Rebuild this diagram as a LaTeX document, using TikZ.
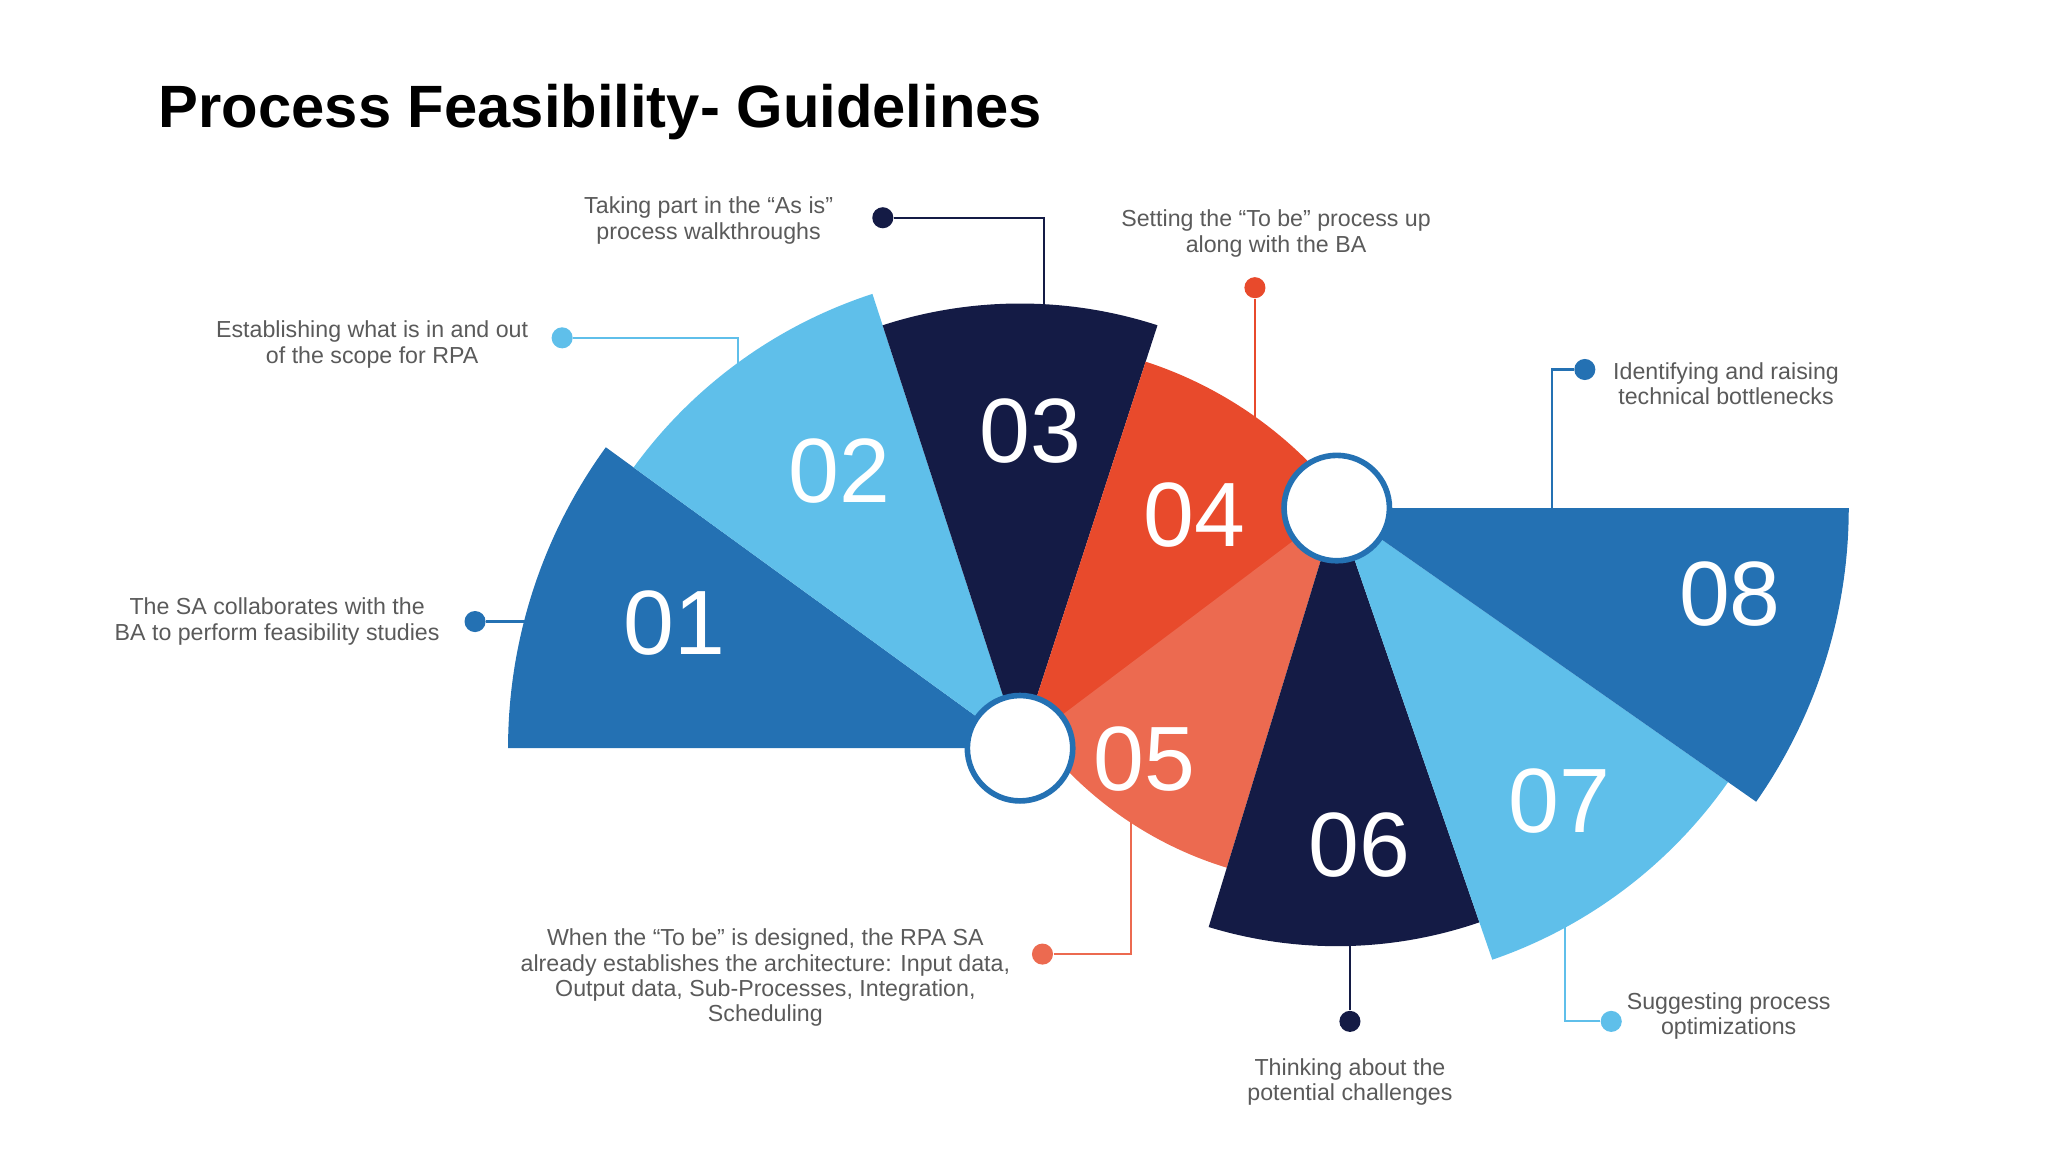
\documentclass[tikz,border=0pt]{standalone}
\usepackage{fontspec}
\setmainfont{Liberation Sans}
\definecolor{cblue}{HTML}{2471B3}
\definecolor{clight}{HTML}{5FBFEA}
\definecolor{cnavy}{HTML}{141B45}
\definecolor{corange}{HTML}{E84A2C}
\definecolor{corl}{HTML}{EC6A50}
\definecolor{ctext}{HTML}{5A5A5A}
\begin{document}
\begin{tikzpicture}[x=0.013196cm,y=-0.013196cm,
  num/.style={text=white,font=\fontsize{26}{28}\selectfont},
  lbl/.style={text=ctext,font=\fontsize{6.6}{7.2}\selectfont,align=center,inner sep=0pt},
  dot/.style={circle,fill=#1,minimum size=6pt,inner sep=0pt},
  conn/.style={draw=#1,line width=0.6pt},
  hub/.style={circle,fill=white,draw=cblue,line width=1.6pt,minimum size=30pt,inner sep=0pt}]
\useasboundingbox (0,0) rectangle (1552,873);
\node[anchor=west,font=\bfseries\fontsize{17}{20}\selectfont] (title) at (111,85) {Process Feasibility- Guidelines};
% connectors
\node[dot=cblue] (d1) at (360,471) {};
\coordinate (e1) at (400,471);
\draw[conn=cblue] (d1) -- (e1);
\node[dot=clight] (d2) at (426,256) {};
\coordinate (e2) at (559,280);
\draw[conn=clight] (d2) -| (e2);
\node[dot=cnavy] (d3) at (669,165) {};
\coordinate (e3) at (791,240);
\draw[conn=cnavy] (d3) -| (e3);
\node[dot=corange] (d4) at (951,218) {};
\coordinate (e4) at (951,320);
\draw[conn=corange] (d4) -- (e4);
\node[dot=cblue] (d8) at (1201,280) {};
\coordinate (e8) at (1176,390);
\draw[conn=cblue] (d8) -| (e8);
\node[dot=clight] (d7) at (1221,774) {};
\coordinate (e7) at (1186,700);
\draw[conn=clight] (d7) -| (e7);
\node[dot=cnavy] (d6) at (1023,774) {};
\coordinate (e6) at (1023,712);
\draw[conn=cnavy] (d6) -- (e6);
\node[dot=corl] (d5) at (790,723) {};
\coordinate (e5) at (857,610);
\draw[conn=corl] (d5) -| (e5);
% sectors
\fill[cblue] (773,567) -- ++(-180:388) arc[start angle=-180,end angle=-144,radius=388] -- cycle;
\fill[clight] (773,567) -- ++(-144:362) arc[start angle=-144,end angle=-108,radius=362] -- cycle;
\fill[cnavy] (773,567) -- ++(-108:337) arc[start angle=-108,end angle=-72,radius=337] -- cycle;
\fill[corange] (773,567) -- ++(-72:308) arc[start angle=-72,end angle=-36,radius=308] -- cycle;
\fill[corl] (1013,385) -- ++(-253:285) arc[start angle=-253,end angle=-217,radius=285] -- cycle;
\fill[cnavy] (1013,385) -- ++(-289:332) arc[start angle=-289,end angle=-253,radius=332] -- cycle;
\fill[clight] (1013,385) -- ++(-325:362) arc[start angle=-325,end angle=-289,radius=362] -- cycle;
\fill[cblue] (1013,385) -- ++(-360:388) arc[start angle=-360,end angle=-325,radius=388] -- cycle;
\node[hub] (hl) at (773,567) {};
\node[hub] (hr) at (1013,385) {};
% numbers
\node[num] (n1) at (511,472) {01};
\node[num] (n2) at (636,357) {02};
\node[num] (n3) at (781,327) {03};
\node[num] (n4) at (905,390) {04};
\node[num] (n5) at (867,575) {05};
\node[num] (n6) at (1030,640) {06};
\node[num] (n7) at (1182,607) {07};
\node[num] (n8) at (1311,450) {08};
% labels
\node[lbl] (t1) at (210,471) {The SA collaborates with the\\BA to perform feasibility studies};
\node[lbl] (t2) at (282,261) {Establishing what is in and out\\of the scope for RPA};
\node[lbl] (t3) at (537,167) {Taking part in the “As is”\\process walkthroughs};
\node[lbl] (t4) at (967,177) {Setting the “To be” process up\\along with the BA};
\node[lbl] (t8) at (1308,291) {Identifying and raising\\technical bottlenecks};
\node[lbl] (t7) at (1310,770) {Suggesting process\\optimizations};
\node[lbl] (t6) at (1023,820) {Thinking about the\\potential challenges};
\node[lbl] (t5) at (580,741) {When the “To be” is designed, the RPA SA\\already establishes the architecture: Input data,\\Output data, Sub-Processes, Integration,\\Scheduling};
\end{tikzpicture}
\end{document}
